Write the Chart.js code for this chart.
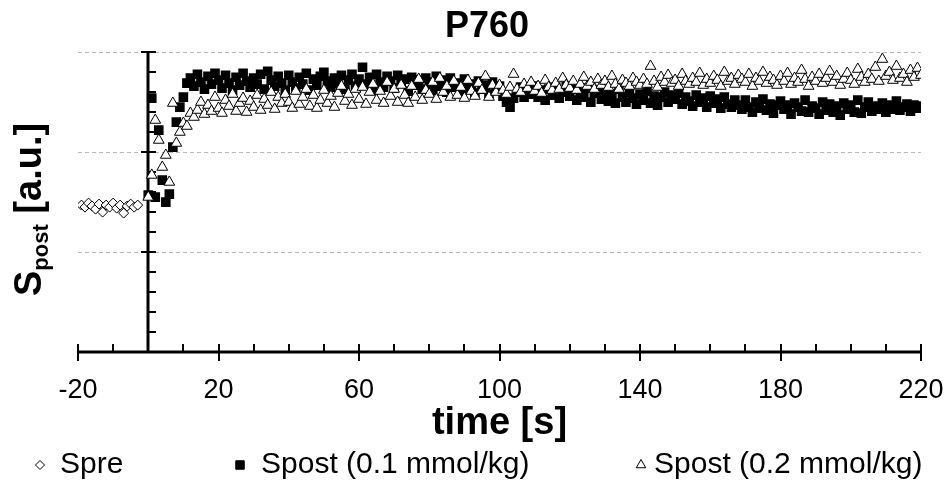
<!DOCTYPE html>
<html>
<head>
<meta charset="utf-8">
<script src="https://cdn.jsdelivr.net/npm/chart.js@4.4.1/dist/chart.umd.min.js"></script>
<style>
  html, body { margin: 0; padding: 0; background: #fff; }
</style>
</head>
<body>
<canvas id="p760" width="947" height="482"></canvas>
<script>
const FONT = '"Liberation Sans", Arial, sans-serif';

const chartTitle = "P760";
const xTitle = "time [s]";
const seriesLabels = ["Spre", "Spost (0.1 mmol/kg)", "Spost (0.2 mmol/kg)"];
const xTicks = [-20, 20, 60, 100, 140, 180, 220];
const yGrid = [1, 2, 3];

// baseline before injection
const spreTime = [-19, -18, -17, -16, -15, -14, -13, -12, -11, -10, -9, -8, -7, -6, -5, -4, -3];
const spreValues = [1.47, 1.45, 1.49, 1.46, 1.43, 1.48, 1.40, 1.47, 1.45, 1.49, 1.44, 1.47, 1.39, 1.46, 1.48, 1.45, 1.47];

// both post series start at t = 0, one sample per second
const postStart = 0;

const post01Values = [
  1.57, 2.54, 1.55, 2.22, 1.72, 1.50, 1.58, 2.05, 2.30, 2.45,
  2.55, 2.69, 2.74, 2.66, 2.78, 2.70, 2.63, 2.76, 2.68, 2.79,
  2.72, 2.64, 2.77, 2.69, 2.62, 2.75, 2.67, 2.79, 2.71, 2.65,
  2.74, 2.68, 2.78, 2.63, 2.81, 2.72, 2.66, 2.76, 2.69, 2.62,
  2.77, 2.70, 2.64, 2.75, 2.68, 2.79, 2.62, 2.73, 2.67, 2.76,
  2.80, 2.71, 2.65, 2.74, 2.69, 2.77, 2.63, 2.72, 2.78, 2.66,
  2.73, 2.85, 2.68, 2.75, 2.62, 2.78, 2.70, 2.65, 2.76, 2.71,
  2.64, 2.77, 2.69, 2.73, 2.61, 2.75, 2.67, 2.72, 2.63, 2.74,
  2.70, 2.62, 2.76, 2.66, 2.72, 2.60, 2.74, 2.65, 2.69, 2.61,
  2.73, 2.64, 2.68, 2.59, 2.71, 2.63, 2.67, 2.58, 2.70, 2.62,
  2.66, 2.56, 2.50, 2.45, 2.54, 2.60, 2.65, 2.55, 2.64, 2.58,
  2.66, 2.55, 2.62, 2.52, 2.63, 2.57, 2.65, 2.54, 2.60, 2.66,
  2.56, 2.63, 2.52, 2.61, 2.55, 2.64, 2.50, 2.59, 2.62, 2.53,
  2.60, 2.51, 2.58, 2.49, 2.63, 2.55, 2.50, 2.60, 2.54, 2.48,
  2.58, 2.52, 2.61, 2.49, 2.56, 2.47, 2.55, 2.60, 2.50, 2.57,
  2.53, 2.59, 2.48, 2.55, 2.51, 2.46, 2.57, 2.50, 2.54, 2.45,
  2.56, 2.49, 2.53, 2.44, 2.55, 2.48, 2.45, 2.52, 2.47, 2.43,
  2.52, 2.45, 2.40, 2.50, 2.44, 2.53, 2.42, 2.48, 2.39, 2.47,
  2.51, 2.43, 2.47, 2.38, 2.49, 2.45, 2.41, 2.52, 2.40, 2.46,
  2.44, 2.38, 2.50, 2.42, 2.48, 2.40, 2.46, 2.37, 2.49, 2.43,
  2.47, 2.40, 2.52, 2.39, 2.45, 2.50, 2.41, 2.46, 2.43, 2.49,
  2.40, 2.47, 2.43, 2.51, 2.42, 2.45, 2.48, 2.41, 2.47, 2.44, 2.46
];

const post02Values = [
  1.55, 1.77, 2.32, 2.12, 1.85, 1.97, 1.70, 2.49, 2.09, 2.20,
  2.29, 2.26, 2.39, 2.35, 2.42, 2.50, 2.38, 2.47, 2.41, 2.55,
  2.44, 2.39, 2.52, 2.46, 2.58, 2.41, 2.49, 2.54, 2.40, 2.51,
  2.45, 2.57, 2.42, 2.53, 2.47, 2.60, 2.43, 2.55, 2.49, 2.58,
  2.50, 2.44, 2.61, 2.48, 2.55, 2.63, 2.46, 2.57, 2.44, 2.52,
  2.62, 2.49, 2.56, 2.45, 2.59, 2.66, 2.51, 2.58, 2.47, 2.63,
  2.53, 2.65, 2.48, 2.60, 2.68, 2.52, 2.61, 2.49, 2.70, 2.56,
  2.63, 2.50, 2.67, 2.57, 2.49, 2.66, 2.55, 2.73, 2.52, 2.62,
  2.58, 2.70, 2.53, 2.74, 2.60, 2.66, 2.55, 2.71, 2.57, 2.65,
  2.54, 2.72, 2.61, 2.56, 2.69, 2.62, 2.76, 2.55, 2.67, 2.60,
  2.67, 2.62, 2.58, 2.65, 2.78, 2.63, 2.60, 2.68, 2.64, 2.70,
  2.61, 2.66, 2.59, 2.72, 2.65, 2.62, 2.69, 2.63, 2.74, 2.67,
  2.64, 2.71, 2.62, 2.68, 2.75, 2.66, 2.70, 2.63, 2.73, 2.67,
  2.71, 2.65, 2.76, 2.68, 2.63, 2.72, 2.69, 2.66, 2.74, 2.70,
  2.67, 2.73, 2.68, 2.86, 2.71, 2.65, 2.75, 2.70, 2.77, 2.69,
  2.72, 2.66, 2.78, 2.71, 2.68, 2.74, 2.70, 2.79, 2.67, 2.73,
  2.69, 2.76, 2.72, 2.66, 2.80, 2.71, 2.74, 2.68, 2.77, 2.73,
  2.70, 2.78, 2.66, 2.74, 2.71, 2.80, 2.69, 2.75, 2.72, 2.67,
  2.76, 2.71, 2.79, 2.68, 2.74, 2.70, 2.82, 2.73, 2.66, 2.75,
  2.71, 2.78, 2.69, 2.74, 2.81, 2.70, 2.76, 2.67, 2.73, 2.79,
  2.72, 2.68, 2.83, 2.75, 2.70, 2.78, 2.73, 2.85, 2.71, 2.93,
  2.76, 2.80, 2.72, 2.86, 2.74, 2.78, 2.70, 2.82, 2.75, 2.84, 2.77
];

const toPoints = (start, values) => values.map((v, i) => ({ x: start + i, y: v }));

// axes crossing at x = 0, minor ticks drawn by hand
const axesPlugin = {
  id: "axes",
  beforeDatasetsDraw(chart) {
    const { ctx, chartArea, scales: { x, y } } = chart;
    const x0 = Math.round(x.getPixelForValue(0));
    const yb = Math.round(y.getPixelForValue(0));
    const yt = Math.round(y.getPixelForValue(3));
    ctx.save();
    ctx.strokeStyle = "#000";
    ctx.lineWidth = 3;
    ctx.beginPath();
    ctx.moveTo(chartArea.left, yb);
    ctx.lineTo(chartArea.right + 1, yb);
    ctx.moveTo(x0, yb);
    ctx.lineTo(x0, yt);
    ctx.stroke();

    ctx.lineWidth = 2;
    ctx.beginPath();
    for (let v = -20; v <= 220; v += 10) {
      const px = Math.round(x.getPixelForValue(v));
      if (xTicks.includes(v)) {
        ctx.moveTo(px, yb - 8);
        ctx.lineTo(px, yb + 9);
      } else if (v !== 0) {
        ctx.moveTo(px, yb - 8);
        ctx.lineTo(px, yb);
      }
    }
    for (let i = 1; i <= 15; i++) {
      const v = i / 5;
      const py = Math.round(y.getPixelForValue(v));
      if (i % 5 === 0) {
        ctx.moveTo(x0 - 7, py);
        ctx.lineTo(x0 + 8, py);
      } else {
        ctx.moveTo(x0, py);
        ctx.lineTo(x0 + 8, py);
      }
    }
    ctx.stroke();
    ctx.restore();
  }
};

// y title with subscript, and a spread-out legend under the x title
const textPlugin = {
  id: "texts",
  afterDraw(chart) {
    const ctx = chart.ctx;
    ctx.save();
    ctx.fillStyle = "#000";
    ctx.textBaseline = "alphabetic";
    ctx.translate(41, 296);
    ctx.rotate(-Math.PI / 2);
    ctx.font = "bold 38px " + FONT;
    ctx.fillText("S", 0, 0);
    let w = ctx.measureText("S").width;
    ctx.font = "bold 22px " + FONT;
    ctx.fillText("post", w, 7);
    w += ctx.measureText("post").width;
    ctx.font = "bold 38px " + FONT;
    ctx.fillText(" [a.u.]", w, 0);
    ctx.restore();

    const ly = 465;
    const slots = [{ mx: 40, tx: 60 }, { mx: 240, tx: 261 }, { mx: 641, tx: 654 }];
    const sizes = [4.5, 6, 5.5];
    ctx.save();
    chart.data.datasets.forEach((ds, i) => {
      ctx.fillStyle = ds.backgroundColor;
      ctx.strokeStyle = "#000";
      ctx.lineWidth = 1;
      Chart.helpers.drawPoint(ctx, { pointStyle: ds.pointStyle, radius: sizes[i], borderWidth: 1, rotation: 0 }, slots[i].mx, ly);
      ctx.fillStyle = "#000";
      ctx.font = "30px " + FONT;
      ctx.textBaseline = "middle";
      ctx.fillText(ds.label, slots[i].tx, ly);
    });
    ctx.restore();
  }
};

new Chart(document.getElementById("p760"), {
  type: "scatter",
  data: {
    datasets: [
      {
        label: seriesLabels[0],
        data: spreTime.map((t, i) => ({ x: t, y: spreValues[i] })),
        pointStyle: "rectRot",
        pointRadius: 5,
        backgroundColor: "#fff",
        borderColor: "#000",
        borderWidth: 1,
        order: 2,
      },
      {
        label: seriesLabels[1],
        data: toPoints(postStart, post01Values),
        pointStyle: "rect",
        pointRadius: 6.8,
        backgroundColor: "#000",
        borderColor: "#000",
        borderWidth: 0,
        order: 1,
      },
      {
        label: seriesLabels[2],
        data: toPoints(postStart, post02Values),
        pointStyle: "triangle",
        pointRadius: 6.2,
        backgroundColor: "#fff",
        borderColor: "#000",
        borderWidth: 1,
        order: 0,
      },
    ],
  },
  options: {
    responsive: false,
    animation: false,
    devicePixelRatio: 1,
    layout: { padding: { left: 28, right: 1, top: 0, bottom: 36 } },
    plugins: {
      legend: { display: false },
      tooltip: { enabled: false },
      title: {
        display: true,
        text: chartTitle,
        color: "#000",
        font: { family: FONT, size: 36, weight: "bold" },
        padding: { top: 5, bottom: 4 },
      },
    },
    scales: {
      x: {
        type: "linear",
        min: -20,
        max: 220,
        afterBuildTicks: (s) => { s.ticks = xTicks.map((v) => ({ value: v })); },
        grid: { display: false, drawTicks: false },
        border: { display: false },
        ticks: { color: "#000", font: { family: FONT, size: 27 }, padding: 22, maxRotation: 0, autoSkip: false },
        title: { display: true, text: xTitle, color: "#000", font: { family: FONT, size: 38, weight: "bold" }, padding: 0 },
        afterFit: (s) => { s.height = 94; s.paddingLeft = 0; s.paddingRight = 26; },
      },
      y: {
        min: 0,
        max: 3,
        afterBuildTicks: (s) => { s.ticks = yGrid.map((v) => ({ value: v })); },
        ticks: { display: false },
        grid: { color: "#b8b8b8", lineWidth: 1, drawTicks: false },
        border: { display: false, dash: [4, 3] },
        afterFit: (s) => { s.width = 50; },
      },
    },
  },
  plugins: [axesPlugin, textPlugin],
});
</script>
</body>
</html>
